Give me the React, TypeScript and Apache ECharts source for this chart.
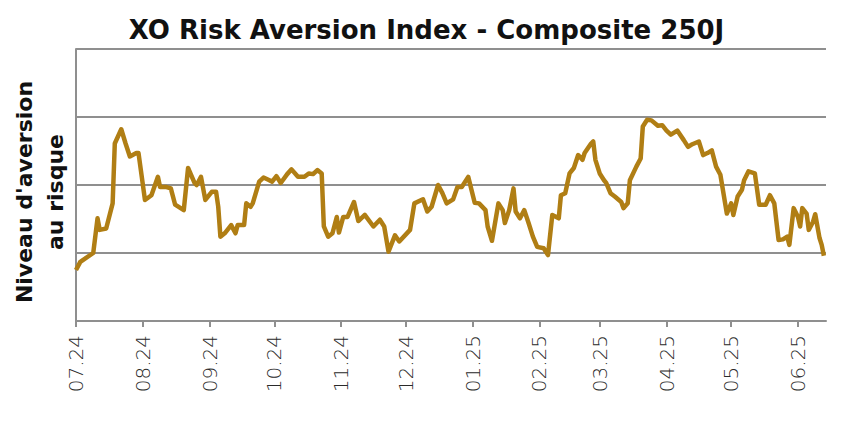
import React, { useEffect, useRef } from "react";
import * as echarts from "echarts";

const titleText = "XO Risk Aversion Index - Composite 250J";
const yAxisTitle = "Niveau d'aversion\nau risque";

const dates: string[] = [
  "2024-07-01", "2024-07-03", "2024-07-09", "2024-07-11", "2024-07-12", "2024-07-15", "2024-07-18", "2024-07-19",
  "2024-07-22", "2024-07-24", "2024-07-26", "2024-07-29", "2024-07-30", "2024-08-02", "2024-08-05", "2024-08-08",
  "2024-08-09", "2024-08-12", "2024-08-14", "2024-08-16", "2024-08-20", "2024-08-22", "2024-08-25", "2024-08-26",
  "2024-08-28", "2024-08-30", "2024-09-02", "2024-09-04", "2024-09-05", "2024-09-06", "2024-09-08", "2024-09-11",
  "2024-09-13", "2024-09-14", "2024-09-17", "2024-09-18", "2024-09-20", "2024-09-21", "2024-09-24", "2024-09-26",
  "2024-09-28", "2024-09-30", "2024-10-02", "2024-10-04", "2024-10-07", "2024-10-09", "2024-10-12", "2024-10-15",
  "2024-10-17", "2024-10-19", "2024-10-21", "2024-10-23", "2024-10-24", "2024-10-26", "2024-10-28", "2024-10-30",
  "2024-10-31", "2024-11-02", "2024-11-04", "2024-11-07", "2024-11-09", "2024-11-12", "2024-11-16", "2024-11-19",
  "2024-11-21", "2024-11-23", "2024-11-26", "2024-11-28", "2024-12-03", "2024-12-05", "2024-12-09", "2024-12-11",
  "2024-12-13", "2024-12-16", "2024-12-18", "2024-12-20", "2024-12-23", "2024-12-25", "2024-12-27", "2024-12-30",
  "2025-01-02", "2025-01-04", "2025-01-07", "2025-01-08", "2025-01-10", "2025-01-13", "2025-01-15", "2025-01-16",
  "2025-01-18", "2025-01-20", "2025-01-21", "2025-01-23", "2025-01-25", "2025-01-27", "2025-01-29", "2025-01-31",
  "2025-02-03", "2025-02-05", "2025-02-07", "2025-02-10", "2025-02-11", "2025-02-13", "2025-02-15", "2025-02-17",
  "2025-02-19", "2025-02-21", "2025-02-22", "2025-02-25", "2025-02-26", "2025-02-27", "2025-03-01", "2025-03-03",
  "2025-03-04", "2025-03-06", "2025-03-08", "2025-03-11", "2025-03-12", "2025-03-14", "2025-03-15", "2025-03-18",
  "2025-03-20", "2025-03-21", "2025-03-23", "2025-03-25", "2025-03-28", "2025-03-30", "2025-04-01", "2025-04-03",
  "2025-04-06", "2025-04-09", "2025-04-11", "2025-04-13", "2025-04-16", "2025-04-18", "2025-04-20", "2025-04-22",
  "2025-04-24", "2025-04-26", "2025-04-29", "2025-05-01", "2025-05-02", "2025-05-04", "2025-05-06", "2025-05-07",
  "2025-05-09", "2025-05-12", "2025-05-14", "2025-05-17", "2025-05-19", "2025-05-21", "2025-05-23", "2025-05-25",
  "2025-05-27", "2025-05-28", "2025-05-30", "2025-06-01", "2025-06-02", "2025-06-03", "2025-06-05", "2025-06-06",
  "2025-06-08", "2025-06-09", "2025-06-11", "2025-06-12", "2025-06-13",
];

const values: number[] = [
  0.75, 0.87, 1.0, 1.51, 1.34, 1.36, 1.73, 2.61,
  2.82, 2.61, 2.42, 2.47, 2.47, 1.78, 1.85, 2.12,
  1.97, 1.97, 1.95, 1.71, 1.63, 2.25, 2.03, 2.0,
  2.12, 1.78, 1.9, 1.9, 1.68, 1.24, 1.29, 1.41,
  1.29, 1.41, 1.41, 1.73, 1.68, 1.73, 2.05, 2.11,
  2.08, 2.05, 2.13, 2.03, 2.16, 2.23, 2.12, 2.12,
  2.17, 2.16, 2.22, 2.17, 1.39, 1.24, 1.29, 1.53,
  1.3, 1.53, 1.53, 1.75, 1.47, 1.56, 1.39, 1.49,
  1.39, 1.02, 1.26, 1.17, 1.34, 1.73, 1.79, 1.61,
  1.68, 2.0, 1.88, 1.73, 1.79, 1.97, 1.97, 2.12,
  1.74, 1.73, 1.63, 1.39, 1.18, 1.73, 1.63, 1.44,
  1.63, 1.95, 1.61, 1.51, 1.63, 1.44, 1.24, 1.09,
  1.07, 0.97, 1.56, 1.51, 1.85, 1.88, 2.17, 2.25,
  2.44, 2.37, 2.47, 2.61, 2.64, 2.37, 2.17, 2.07,
  2.03, 1.88, 1.83, 1.75, 1.66, 1.73, 2.07, 2.27,
  2.39, 2.86, 2.96, 2.95, 2.87, 2.88, 2.8, 2.74,
  2.8, 2.66, 2.56, 2.6, 2.64, 2.44, 2.47, 2.51,
  2.27, 2.15, 1.58, 1.73, 1.56, 1.83, 1.93, 2.07,
  2.2, 2.17, 1.71, 1.71, 1.85, 1.73, 1.19, 1.2,
  1.24, 1.12, 1.66, 1.53, 1.39, 1.66, 1.58, 1.34,
  1.46, 1.57, 1.22, 1.12, 0.96,
];

const xMin = "2024-07-01";
const xMax = "2025-06-14";

const DAY = 86400000;

export default function App() {
  const ref = useRef<HTMLDivElement>(null);
  useEffect(() => {
    if (!ref.current) return;
    const chart = echarts.init(ref.current, undefined, { renderer: "svg" });
    const gray = "#8f8f8f";
    chart.setOption({
      animation: false,
      backgroundColor: "#ffffff",
      title: {
        text: titleText,
        left: "center",
        top: 12,
        textStyle: {
          fontFamily: "DejaVu Sans",
          fontWeight: 700,
          fontSize: 26,
          color: "#111111",
        },
      },
      grid: {
        left: 76,
        right: 27,
        top: 49,
        bottom: 106,
        containLabel: false,
        outerBoundsMode: "none",
      },
      xAxis: {
        type: "time",
        min: xMin,
        max: xMax,
        minInterval: 28 * DAY,
        maxInterval: 31 * DAY,
        splitLine: { show: false },
        axisLine: { show: true, lineStyle: { color: gray, width: 2 } },
        axisTick: { show: true, length: 6, lineStyle: { color: gray, width: 2 } },
        axisLabel: {
          rotate: 90,
          margin: 14,
          fontSize: 20,
          fontFamily: "DejaVu Sans",
          fontWeight: 200,
          color: "#2a2a2a",
          showMinLabel: true,
          showMaxLabel: false,
          hideOverlap: false,
          formatter: (v: number) => {
            const d = new Date(v);
            const mm = String(d.getMonth() + 1).padStart(2, "0");
            const yy = String(d.getFullYear() % 100).padStart(2, "0");
            return mm + "." + yy;
          },
        },
      },
      yAxis: {
        type: "value",
        min: 0,
        max: 4,
        interval: 1,
        name: yAxisTitle,
        nameLocation: "middle",
        nameRotate: 90,
        nameGap: 5,
        nameTextStyle: {
          fontFamily: "DejaVu Sans",
          fontWeight: 700,
          fontSize: 22,
          color: "#111111",
          lineHeight: 31,
          align: "center",
          padding: [0, 14, 0, 0],
        },
        axisLine: { show: true, lineStyle: { color: gray, width: 2 } },
        axisTick: { show: false },
        axisLabel: { show: false },
        splitLine: { show: true, lineStyle: { color: gray, width: 2 } },
      },
      series: [
        {
          type: "line",
          data: dates.map((d, i) => [d, values[i]]),
          showSymbol: false,
          symbol: "none",
          lineStyle: { color: "#B07E14", width: 4.5, join: "round" },
          z: 5,
        },
      ],
    });
    return () => chart.dispose();
  }, []);
  return <div ref={ref} style={{ width: 853, height: 427, margin: -8 }} />;
}
